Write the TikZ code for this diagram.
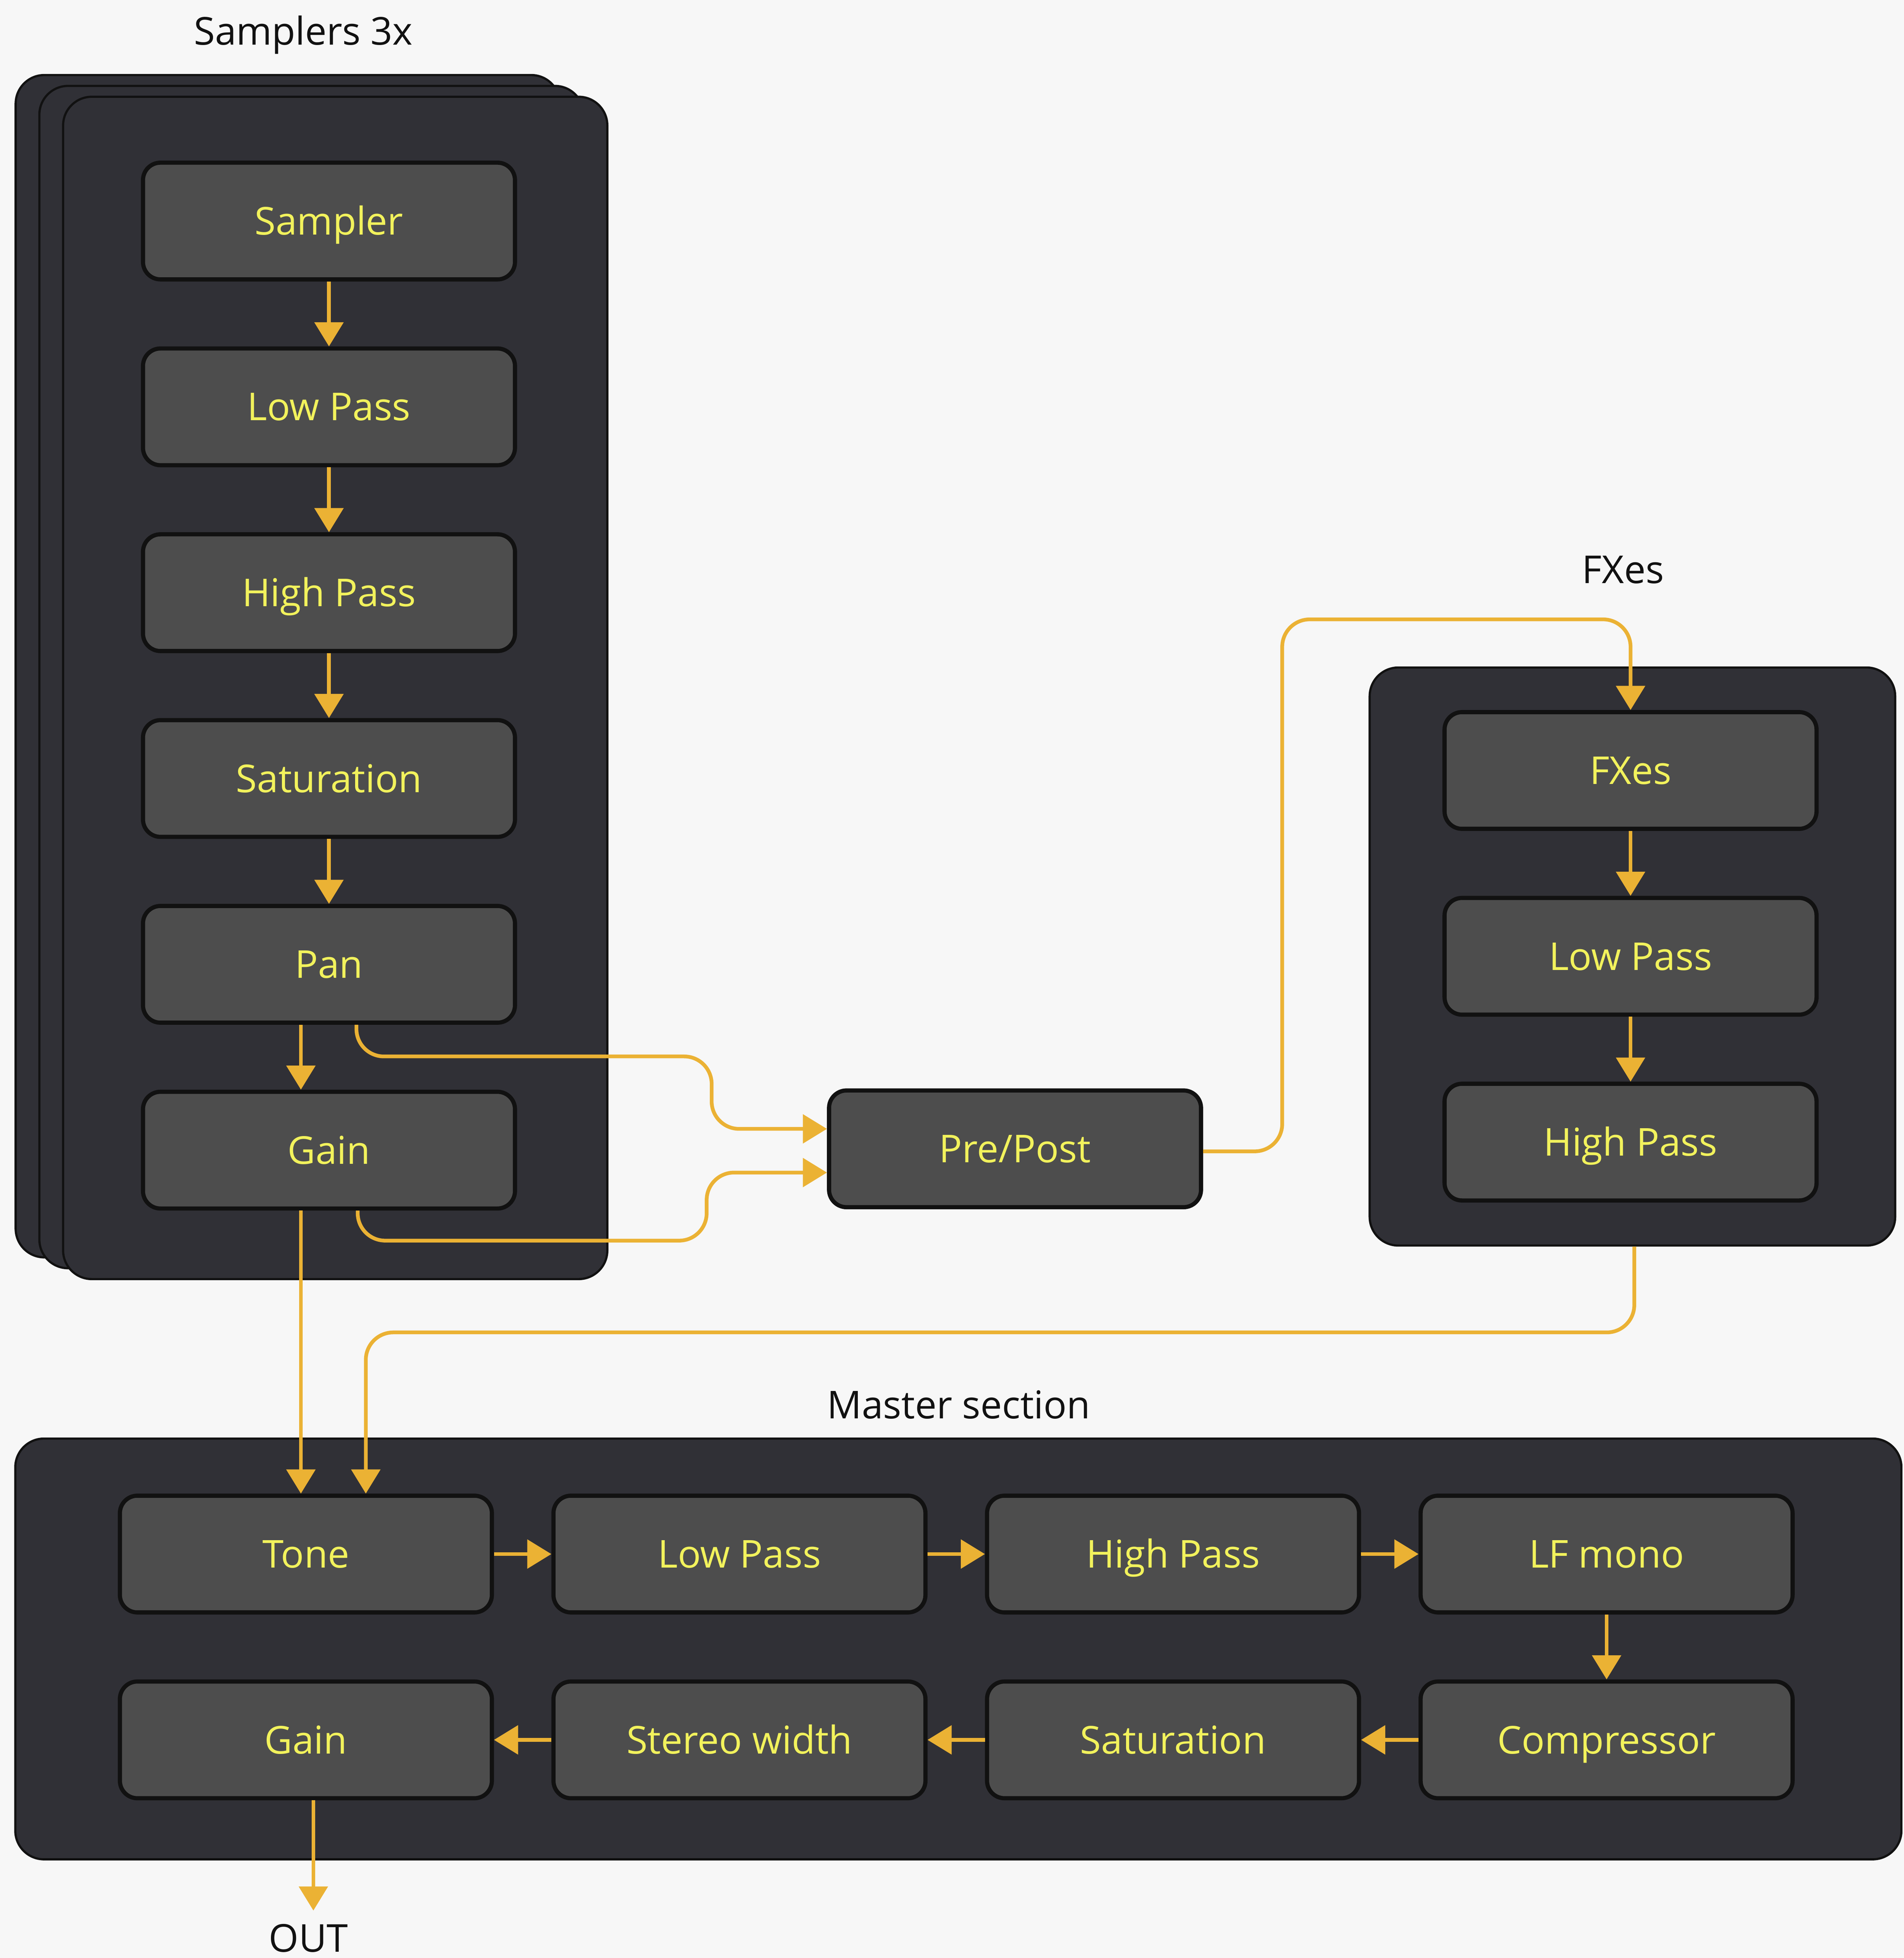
\documentclass[tikz,border=0pt]{standalone}
\usepackage{fontspec}
\setmainfont{Open Sans}
\usetikzlibrary{arrows.meta, positioning}
\definecolor{bg}{HTML}{F7F7F7}
\definecolor{panelfill}{HTML}{303036}
\definecolor{blockfill}{HTML}{4D4D4D}
\definecolor{edge}{HTML}{111111}
\definecolor{signal}{HTML}{EBB234}
\definecolor{labelyellow}{HTML}{F2F25C}

\begin{document}
\begin{tikzpicture}[x=0.02cm, y=-0.02cm, node distance = 1.04cm,
    block/.style = {draw=edge, line width=1.9pt, fill=blockfill, rounded corners=0.28cm,
        minimum width=5.96cm, minimum height=1.87cm, inner sep=0pt, text=labelyellow,
        font=\fontsize{17.5}{21}\selectfont, text height=12.5pt, text depth=0pt},
    panel/.style = {draw=edge, line width=1pt, fill=panelfill, rounded corners=0.46cm, inner sep=0pt},
    flow/.style = {draw=signal, line width=1.7pt, -{Triangle[width=13pt, length=11pt]}, rounded corners=0.44cm},
    heading/.style = {text=edge, font=\fontsize{17.5}{21}\selectfont, inner sep=0pt, anchor=base}]
    \fill[bg] (0,0) rectangle (1525,1568);
    \useasboundingbox (0,0) rectangle (1525,1568);

    % three stacked sampler panels
    \foreach \i in {0,1,2}
        \node[panel, minimum width=8.72cm, minimum height=18.94cm] (stack\i) at (230.5+19*\i, 533.5+8.7*\i) {};
    \node[heading] (samplers) at (243,36) {Samplers 3x};

    \node[block] (sampler) at (263.5,177) {Sampler};
    \node[block, below=of sampler] (lowpass) {Low Pass};
    \node[block, below=of lowpass] (highpass) {High Pass};
    \node[block, below=of highpass] (saturation) {Saturation};
    \node[block, below=of saturation] (pan) {Pan};
    \node[block, below=of pan] (gain) {Gain};

    \node[block] (prepost) at (813,920) {Pre/Post};

    % fx section
    \node[panel, minimum width=8.42cm, minimum height=9.26cm] (fxpanel) at (1307.5,766) {};
    \node[heading] (fxtitle) at (1300,467) {FXes};
    \node[block] (fx) at (1306,617) {FXes};
    \node[block, below=of fx] (fxlow) {Low Pass};
    \node[block, below=of fxlow] (fxhigh) {High Pass};

    % master section
    \node[panel, minimum width=30.22cm, minimum height=6.74cm] (masterpanel) at (767.6,1320.5) {};
    \node[heading] (mastertitle) at (768,1136) {Master section};
    \node[block] (tone) at (245,1244.5) {Tone};
    \node[block, right=0.92cm of tone] (mlow) {Low Pass};
    \node[block, right=0.92cm of mlow] (mhigh) {High Pass};
    \node[block, right=0.92cm of mhigh] (lfmono) {LF mono};
    \node[block, below=of lfmono] (comp) {Compressor};
    \node[block, left=0.92cm of comp] (msat) {Saturation};
    \node[block, left=0.92cm of msat] (width) {Stereo width};
    \node[block, left=0.92cm of width] (mgain) {Gain};
    \node[heading, anchor=north, inner sep=6pt] (out) at (247,1530) {OUT};

    \foreach \a/\b in {sampler/lowpass, lowpass/highpass, highpass/saturation, saturation/pan,
            fx/fxlow, fxlow/fxhigh, tone/mlow, mlow/mhigh, mhigh/lfmono, lfmono/comp,
            comp/msat, msat/width, width/mgain}
        \draw[flow] (\a) -- (\b);

    \draw[flow] ([xshift=-0.45cm]pan.south) -- ([xshift=-0.45cm]gain.north);
    \draw[flow] ([xshift=0.44cm]pan.south) |- (570,846) |- ([yshift=0.32cm]prepost.west);
    \draw[flow] ([xshift=0.46cm]gain.south) |- (566,993.5) |- ([yshift=-0.38cm]prepost.west);
    \draw[flow] ([xshift=-0.45cm]gain.south) -- ([xshift=-0.45cm]gain.south |- tone.north);
    \draw[flow] ([yshift=-0.04cm]prepost.east) -| (1027,496) -| (fx.north);
    \coordinate (fxreturn) at (293,1067);
    \draw[flow] ([xshift=0.03cm]fxpanel.south) |- (fxreturn) -- (fxreturn |- tone.north);
    \draw[flow] ([xshift=0.12cm]mgain.south) -- ([xshift=0.12cm]mgain.south |- out.north);
\end{tikzpicture}
\end{document}
